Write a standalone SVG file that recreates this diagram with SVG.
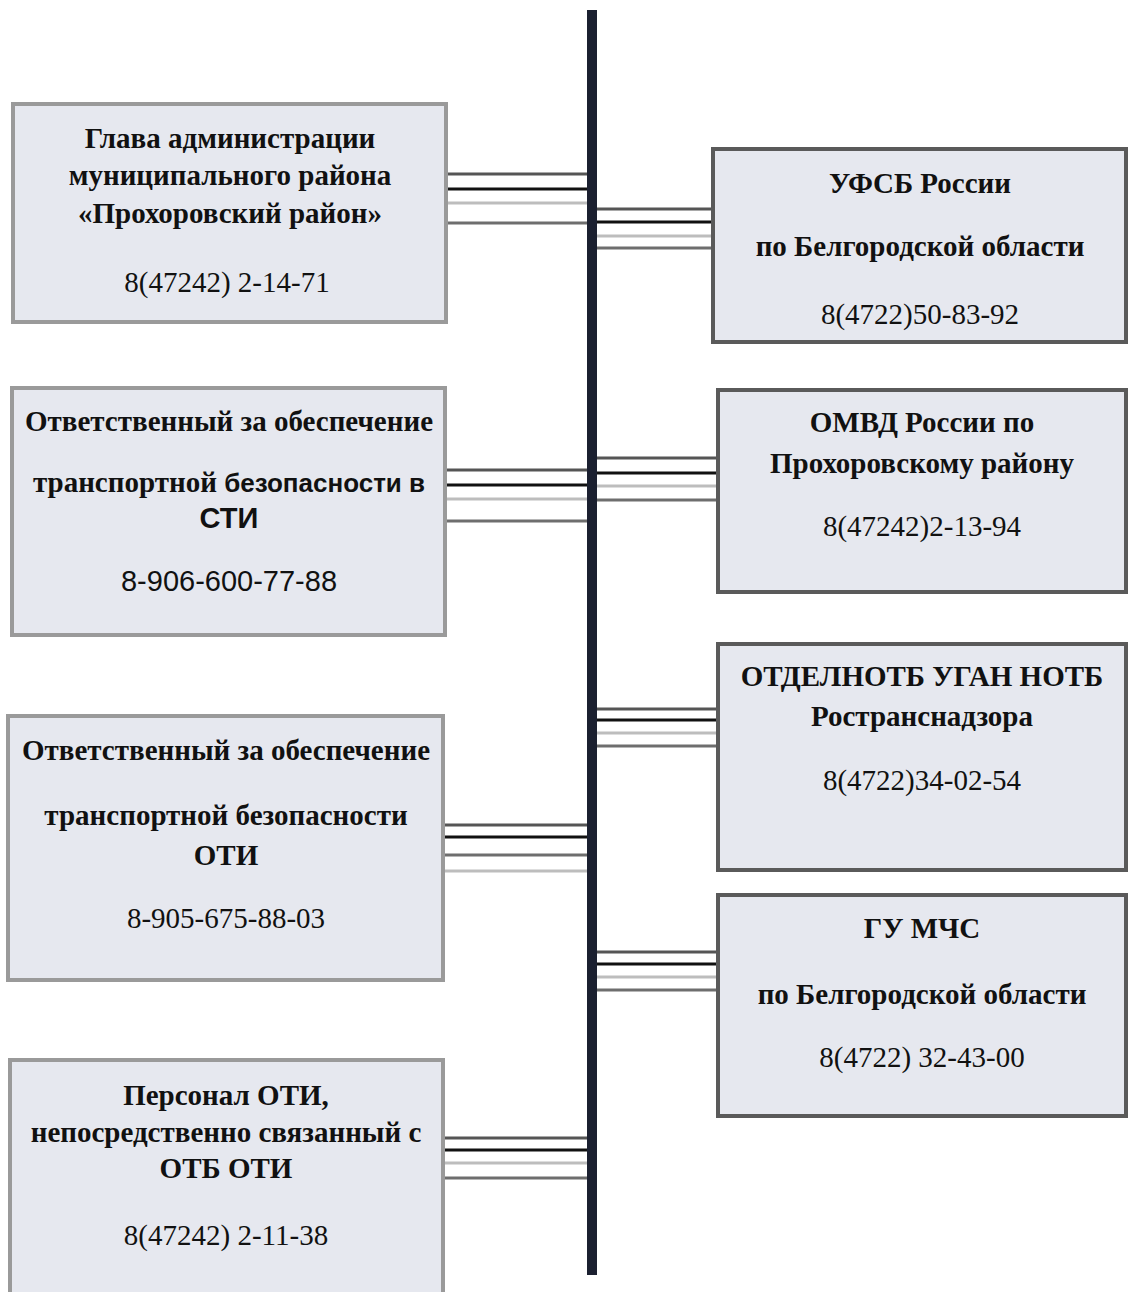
<svg xmlns="http://www.w3.org/2000/svg" width="1129" height="1292" viewBox="0 0 1129 1292">
<style>
.bl{fill:#e6e8ef;stroke:#9a9a9a;stroke-width:4}
.br{fill:#e6e8ef;stroke:#5a5a5a;stroke-width:4}
.t{font-family:"Liberation Serif","Times New Roman",serif;font-size:29px;font-weight:bold;fill:#111;text-anchor:middle}
.p{font-family:"Liberation Serif","Times New Roman",serif;font-size:29px;fill:#111;text-anchor:middle}
.s{font-family:"Liberation Sans",Arial,sans-serif}
.c1{stroke:#555;stroke-width:3}
.c2{stroke:#111;stroke-width:3}
.c3{stroke:#bdbdbd;stroke-width:3}
.c4{stroke:#6e6e6e;stroke-width:3}
</style>
<rect width="1129" height="1292" fill="#fff"/>
<g id="connectors">
<rect x="587" y="10" width="10" height="1265" fill="#1b2030"/>
<line class="c1" x1="446" y1="174" x2="587" y2="174"/><line class="c2" x1="446" y1="189" x2="587" y2="189"/><line class="c3" x1="446" y1="203" x2="587" y2="203"/><line class="c4" x1="446" y1="223" x2="587" y2="223"/>
<line class="c1" x1="597" y1="209" x2="713" y2="209"/><line class="c2" x1="597" y1="222" x2="713" y2="222"/><line class="c3" x1="597" y1="236" x2="713" y2="236"/><line class="c4" x1="597" y1="248" x2="713" y2="248"/>
<line class="c1" x1="445" y1="470" x2="587" y2="470"/><line class="c2" x1="445" y1="485" x2="587" y2="485"/><line class="c3" x1="445" y1="499" x2="587" y2="499"/><line class="c4" x1="445" y1="521" x2="587" y2="521"/>
<line class="c1" x1="597" y1="458" x2="718" y2="458"/><line class="c2" x1="597" y1="473" x2="718" y2="473"/><line class="c3" x1="597" y1="486" x2="718" y2="486"/><line class="c4" x1="597" y1="500" x2="718" y2="500"/>
<line class="c1" x1="443" y1="825" x2="587" y2="825"/><line class="c2" x1="443" y1="837" x2="587" y2="837"/><line class="c4" x1="443" y1="855" x2="587" y2="855"/><line class="c3" x1="443" y1="871" x2="587" y2="871"/>
<line class="c1" x1="597" y1="709" x2="718" y2="709"/><line class="c2" x1="597" y1="720" x2="718" y2="720"/><line class="c3" x1="597" y1="733" x2="718" y2="733"/><line class="c4" x1="597" y1="746" x2="718" y2="746"/>
<line class="c1" x1="597" y1="952" x2="718" y2="952"/><line class="c2" x1="597" y1="964" x2="718" y2="964"/><line class="c3" x1="597" y1="977" x2="718" y2="977"/><line class="c4" x1="597" y1="990" x2="718" y2="990"/>
<line class="c1" x1="443" y1="1138" x2="587" y2="1138"/><line class="c2" x1="443" y1="1150" x2="587" y2="1150"/><line class="c3" x1="443" y1="1163" x2="587" y2="1163"/><line class="c4" x1="443" y1="1178" x2="587" y2="1178"/>
</g>
<g id="n1">
<rect class="bl" x="13" y="104" width="433" height="218"/>
<text class="t" x="230" y="148">Глава администрации</text>
<text class="t" x="230" y="185">муниципального района</text>
<text class="t" x="230" y="223">«Прохоровский район»</text>
<text class="p" x="227" y="292">8(47242) 2-14-71</text>
</g>
<g id="n2">
<rect class="br" x="713" y="149" width="413" height="193"/>
<text class="t" x="920" y="193">УФСБ России</text>
<text class="t" x="920" y="256">по Белгородской области</text>
<text class="p" x="920" y="324">8(4722)50-83-92</text>
</g>
<g id="n3">
<rect class="bl" x="12" y="388" width="433" height="247"/>
<text class="t" x="229" y="431">Ответственный за обеспечение</text>
<text class="t" x="229" y="492">транспортной <tspan class="s" font-size="26">безопасности в</tspan></text>
<text class="t s" x="229" y="528" font-size="27">СТИ</text>
<text class="p s" x="229" y="591" font-size="25.5">8-906-600-77-88</text>
</g>
<g id="n4">
<rect class="br" x="718" y="390" width="408" height="202"/>
<text class="t" x="922" y="432">ОМВД России по</text>
<text class="t" x="922" y="473">Прохоровскому району</text>
<text class="p" x="922" y="536">8(47242)2-13-94</text>
</g>
<g id="n5">
<rect class="bl" x="8" y="716" width="435" height="264"/>
<text class="t" x="226" y="760">Ответственный за обеспечение</text>
<text class="t" x="226" y="825">транспортной безопасности</text>
<text class="t" x="226" y="865">ОТИ</text>
<text class="p" x="226" y="928">8-905-675-88-03</text>
</g>
<g id="n6">
<rect class="br" x="718" y="644" width="408" height="226"/>
<text class="t" x="922" y="686">ОТДЕЛНОТБ УГАН НОТБ</text>
<text class="t" x="922" y="726">Ространснадзора</text>
<text class="p" x="922" y="790">8(4722)34-02-54</text>
</g>
<g id="n7">
<rect class="br" x="718" y="895" width="408" height="221"/>
<text class="t" x="922" y="938">ГУ МЧС</text>
<text class="t" x="922" y="1004">по Белгородской области</text>
<text class="p" x="922" y="1067">8(4722) 32-43-00</text>
</g>
<g id="n8">
<rect class="bl" x="10" y="1060" width="433" height="240"/>
<text class="t" x="226" y="1105">Персонал ОТИ,</text>
<text class="t" x="226" y="1142">непосредственно связанный с</text>
<text class="t" x="226" y="1178">ОТБ ОТИ</text>
<text class="p" x="226" y="1245">8(47242) 2-11-38</text>
</g>
</svg>
